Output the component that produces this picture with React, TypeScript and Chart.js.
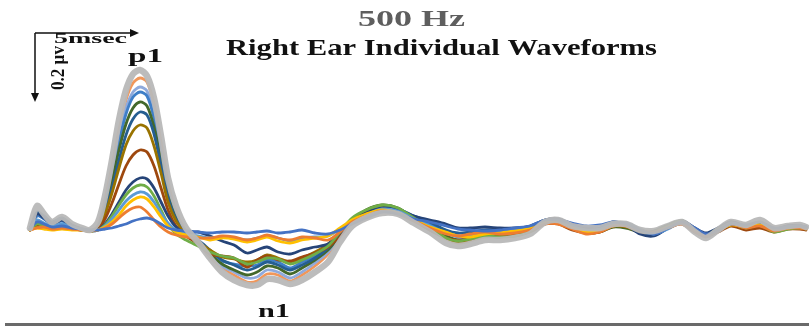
import React, { useEffect, useRef } from "react";
import { Chart, registerables } from "chart.js";

Chart.register(...registerables);

// Sample times (ms) shared by every trace
const TIME_MS = [
  0, 0.35, 0.7, 1.1, 1.6, 2.1, 2.6, 3.0,
  3.4, 3.75, 4.1, 4.45, 4.8, 5.15, 5.5, 5.85, 6.2, 6.55, 6.9, 7.3, 7.8,
  8.4, 9.0, 9.6, 10.2, 10.85, 11.35, 11.85, 12.4, 13.0, 13.6, 14.25, 14.9, 15.5, 16.1,
  16.8, 17.6, 18.4, 19.2,
  20.0, 20.8, 21.4, 22.0, 22.75, 23.5, 24.25, 25.0,
  25.75, 26.4, 27.1, 27.8, 28.5, 29.15, 29.8, 30.5, 31.2, 31.9, 32.6, 33.25, 33.8, 34.4, 35.05, 35.8, 36.5, 37.2, 37.9, 38.5, 38.8,
];

// Individual right-ear waveforms, amplitude in µV
const WAVE_01 = [
  0.003, 0.024, 0.018, 0.009, 0.012, 0.006, 0.003, 0,
  0, 0.003, 0.006, 0.012, 0.018, 0.027, 0.033, 0.036, 0.03, 0.018, 0.006, 0, -0.003,
  -0.006, -0.009, -0.006, -0.006, -0.009, -0.006, -0.003, -0.009, -0.006, 0, -0.009, -0.012, 0, 0.018,
  0.036, 0.054, 0.048, 0.033,
  0.024, 0.012, 0.003, 0, -0.003, 0, 0.006, 0.012,
  0.03, 0.03, 0.021, 0.012, 0.015, 0.024, 0.018, 0, -0.012, 0.006, 0.024, 0.006, -0.012, 0, 0.018, 0.015, 0.024, 0.006, 0.009, 0.012, 0.009,
];
const WAVE_02 = [
  0, 0.006, 0.009, 0.003, 0.006, 0.003, 0, -0.003,
  0, 0.006, 0.018, 0.036, 0.054, 0.066, 0.069, 0.054, 0.03, 0.009, -0.006, -0.015, -0.021,
  -0.024, -0.024, -0.018, -0.021, -0.03, -0.024, -0.015, -0.024, -0.03, -0.021, -0.024, -0.03, -0.006, 0.024,
  0.042, 0.057, 0.048, 0.027,
  0.006, -0.012, -0.018, -0.012, -0.006, -0.012, -0.009, 0,
  0.018, 0.018, 0.003, -0.012, -0.006, 0.012, 0.012, -0.003, -0.006, 0.006, 0.018, -0.006, -0.018, 0, 0.018, 0.006, 0.012, -0.003, 0.006, 0.006, 0.003,
];
const WAVE_03 = [
  0, 0.006, 0.003, 0, 0.003, 0, 0, -0.003,
  0, 0.009, 0.024, 0.045, 0.072, 0.09, 0.099, 0.093, 0.069, 0.039, 0.012, -0.006, -0.015,
  -0.021, -0.03, -0.024, -0.027, -0.036, -0.03, -0.021, -0.033, -0.039, -0.03, -0.024, -0.018, 0.006, 0.03,
  0.048, 0.06, 0.051, 0.03,
  0.009, -0.006, -0.018, -0.021, -0.012, -0.009, -0.003, 0.006,
  0.024, 0.021, 0.006, -0.006, -0.003, 0.012, 0.015, 0, -0.009, 0.009, 0.021, 0, -0.015, 0, 0.015, 0.009, 0.018, 0, 0.006, 0.009, 0.006,
];
const WAVE_04 = [
  0.003, 0.03, 0.021, 0.012, 0.018, 0.009, 0.003, 0,
  0, 0.012, 0.033, 0.06, 0.087, 0.105, 0.114, 0.108, 0.084, 0.051, 0.021, 0, -0.012,
  -0.018, -0.024, -0.021, -0.024, -0.03, -0.024, -0.018, -0.024, -0.033, -0.024, -0.021, -0.018, 0.003, 0.027,
  0.045, 0.063, 0.057, 0.033,
  0.012, -0.009, -0.021, -0.018, -0.009, -0.006, 0, 0.009,
  0.027, 0.027, 0.012, 0, 0.003, 0.018, 0.021, 0.003, -0.012, 0.003, 0.024, 0.003, -0.018, -0.003, 0.021, 0.012, 0.021, 0.003, 0.009, 0.012, 0.009,
];
const WAVE_05 = [
  0, 0.018, 0.012, 0.006, 0.009, 0.003, 0, -0.003,
  0, 0.015, 0.042, 0.075, 0.105, 0.126, 0.135, 0.129, 0.102, 0.06, 0.018, -0.012, -0.03,
  -0.048, -0.066, -0.078, -0.084, -0.102, -0.096, -0.084, -0.087, -0.102, -0.09, -0.072, -0.048, -0.006, 0.036,
  0.06, 0.075, 0.066, 0.036,
  0.006, -0.024, -0.033, -0.027, -0.018, -0.021, -0.018, -0.003,
  0.021, 0.024, 0.006, -0.006, 0, 0.015, 0.012, -0.003, -0.006, 0.012, 0.027, 0, -0.015, 0.003, 0.018, 0.006, 0.015, -0.006, 0.003, 0.006, 0.003,
];
const WAVE_06 = [
  0.003, 0.048, 0.036, 0.018, 0.03, 0.012, 0.003, -0.003,
  0, 0.018, 0.048, 0.084, 0.12, 0.144, 0.156, 0.153, 0.126, 0.084, 0.042, 0.009, -0.009,
  -0.006, -0.018, -0.033, -0.045, -0.069, -0.06, -0.051, -0.066, -0.072, -0.06, -0.051, -0.042, -0.009, 0.024,
  0.051, 0.066, 0.06, 0.042,
  0.03, 0.018, 0.006, 0.006, 0.009, 0.006, 0.006, 0.012,
  0.03, 0.033, 0.018, 0.006, 0.006, 0.024, 0.015, -0.012, -0.018, 0.006, 0.027, 0.006, -0.009, 0.006, 0.024, 0.012, 0.018, 0, 0.012, 0.012, 0.009,
];
const WAVE_07 = [
  0, 0.012, 0.009, 0.003, 0.006, 0.003, 0, -0.003,
  0.003, 0.033, 0.081, 0.138, 0.192, 0.225, 0.24, 0.234, 0.192, 0.126, 0.06, 0.012, -0.018,
  -0.042, -0.072, -0.078, -0.084, -0.111, -0.09, -0.078, -0.09, -0.093, -0.081, -0.069, -0.051, -0.018, 0.024,
  0.048, 0.06, 0.054, 0.03,
  0, -0.024, -0.03, -0.024, -0.018, -0.021, -0.015, -0.003,
  0.018, 0.018, 0, -0.009, -0.006, 0.012, 0.012, -0.003, -0.009, 0.006, 0.018, -0.006, -0.018, -0.006, 0.012, 0, 0.006, -0.006, 0.003, 0.003, 0,
];
const WAVE_08 = [
  0, 0.024, 0.015, 0.006, 0.012, 0.006, 0, -0.003,
  0.006, 0.048, 0.111, 0.186, 0.255, 0.297, 0.315, 0.306, 0.252, 0.171, 0.084, 0.027, -0.012,
  -0.036, -0.06, -0.081, -0.087, -0.096, -0.09, -0.075, -0.084, -0.096, -0.084, -0.066, -0.042, -0.006, 0.03,
  0.054, 0.066, 0.057, 0.03,
  0, -0.024, -0.036, -0.03, -0.018, -0.018, -0.018, -0.006,
  0.018, 0.021, 0.006, -0.006, -0.003, 0.012, 0.009, -0.006, -0.006, 0.009, 0.021, -0.003, -0.018, 0, 0.015, 0.006, 0.012, -0.003, 0.006, 0.006, 0.003,
];
const WAVE_09 = [
  0.003, 0.054, 0.042, 0.024, 0.036, 0.015, 0.003, -0.003,
  0.006, 0.054, 0.126, 0.21, 0.285, 0.333, 0.354, 0.345, 0.288, 0.195, 0.099, 0.033, -0.009,
  -0.03, -0.06, -0.09, -0.105, -0.12, -0.111, -0.096, -0.105, -0.12, -0.105, -0.084, -0.054, -0.012, 0.03,
  0.054, 0.066, 0.063, 0.042,
  0.024, 0, -0.009, -0.006, 0, 0, 0.003, 0.009,
  0.03, 0.03, 0.012, 0, 0.003, 0.021, 0.015, -0.009, -0.015, 0.006, 0.024, 0.003, -0.012, 0.003, 0.021, 0.012, 0.021, 0.003, 0.012, 0.012, 0.009,
];
const WAVE_10 = [
  0, 0.018, 0.012, 0.006, 0.009, 0.003, 0, -0.003,
  0.009, 0.066, 0.147, 0.24, 0.318, 0.366, 0.384, 0.372, 0.309, 0.21, 0.108, 0.036, -0.009,
  -0.036, -0.072, -0.102, -0.12, -0.135, -0.126, -0.108, -0.114, -0.132, -0.114, -0.09, -0.06, -0.015, 0.03,
  0.06, 0.075, 0.066, 0.036,
  0.006, -0.018, -0.03, -0.027, -0.018, -0.018, -0.015, -0.003,
  0.021, 0.024, 0.006, -0.009, -0.006, 0.009, 0.006, -0.006, -0.003, 0.015, 0.027, 0, -0.015, 0.003, 0.024, 0.012, 0.018, -0.003, 0.006, 0.009, 0.006,
];
const WAVE_11 = [
  0.003, 0.042, 0.033, 0.018, 0.027, 0.012, 0.003, -0.003,
  0.009, 0.072, 0.162, 0.264, 0.348, 0.399, 0.414, 0.402, 0.336, 0.228, 0.12, 0.042, -0.006,
  -0.033, -0.066, -0.093, -0.102, -0.108, -0.105, -0.09, -0.096, -0.114, -0.096, -0.078, -0.048, -0.006, 0.033,
  0.057, 0.069, 0.06, 0.036,
  0.018, -0.006, -0.018, -0.015, -0.006, -0.006, -0.003, 0.006,
  0.027, 0.027, 0.012, 0, 0.003, 0.021, 0.018, -0.006, -0.012, 0.009, 0.024, 0.003, -0.012, 0.003, 0.021, 0.012, 0.021, 0.003, 0.012, 0.012, 0.009,
];
const WAVE_12 = [
  0, 0.024, 0.018, 0.009, 0.015, 0.006, 0, -0.003,
  0.012, 0.078, 0.174, 0.279, 0.366, 0.414, 0.429, 0.417, 0.351, 0.24, 0.126, 0.045, -0.006,
  -0.036, -0.075, -0.108, -0.126, -0.144, -0.141, -0.12, -0.126, -0.144, -0.126, -0.099, -0.066, -0.018, 0.03,
  0.054, 0.066, 0.06, 0.033,
  0.006, -0.018, -0.03, -0.024, -0.015, -0.015, -0.012, 0,
  0.024, 0.027, 0.009, -0.003, 0, 0.015, 0.012, -0.003, -0.006, 0.012, 0.024, 0, -0.018, 0, 0.018, 0.009, 0.018, 0, 0.009, 0.009, 0.006,
];
const WAVE_13 = [
  0, 0.018, 0.012, 0.006, 0.009, 0.003, 0, -0.003,
  0.015, 0.09, 0.192, 0.3, 0.39, 0.441, 0.456, 0.444, 0.378, 0.264, 0.144, 0.057, -0.003,
  -0.039, -0.081, -0.114, -0.135, -0.156, -0.153, -0.132, -0.135, -0.153, -0.135, -0.108, -0.072, -0.021, 0.027,
  0.048, 0.06, 0.054, 0.027,
  0, -0.027, -0.039, -0.033, -0.021, -0.021, -0.015, -0.003,
  0.021, 0.024, 0.006, -0.009, -0.006, 0.009, 0.009, -0.006, -0.009, 0.009, 0.021, -0.003, -0.021, -0.003, 0.015, 0.006, 0.015, -0.003, 0.006, 0.006, 0.003,
];
// Largest-response trace, drawn as the thick grey outline
const WAVE_MAX = [
  0.006, 0.072, 0.048, 0.024, 0.039, 0.018, 0.006, 0,
  0.024, 0.102, 0.21, 0.33, 0.42, 0.468, 0.48, 0.462, 0.396, 0.282, 0.156, 0.072, 0.006,
  -0.036, -0.084, -0.126, -0.15, -0.165, -0.165, -0.147, -0.15, -0.162, -0.15, -0.126, -0.096, -0.036, 0.012,
  0.036, 0.051, 0.048, 0.021,
  -0.006, -0.039, -0.048, -0.042, -0.03, -0.03, -0.024, -0.012,
  0.024, 0.03, 0.012, 0.006, 0.006, 0.018, 0.018, 0, -0.003, 0.012, 0.024, -0.006, -0.024, 0, 0.024, 0.015, 0.03, 0.006, 0.012, 0.015, 0.009,
];

const WAVES = [
  WAVE_01, WAVE_02, WAVE_03, WAVE_04, WAVE_05, WAVE_06, WAVE_07,
  WAVE_08, WAVE_09, WAVE_10, WAVE_11, WAVE_12, WAVE_13,
];
const WAVE_COLORS = [
  "#4472C4", "#ED7D31", "#FFC000", "#5B9BD5", "#70AD47", "#264478", "#9E480E",
  "#997300", "#255E91", "#43682B", "#3F7FC8", "#8FAADC", "#F1975A",
];

const TITLE = "500 Hz";
const SUBTITLE = "Right Ear Individual Waveforms";
const PEAK_POS = "p1";
const PEAK_NEG = "n1";
const SCALE_TIME = "5msec";
const SCALE_AMP = "0.2 µv";

const SERIF = "'Liberation Serif', 'Times New Roman', serif";

function stretchedText(
  ctx: CanvasRenderingContext2D,
  text: string,
  size: number,
  left: number,
  right: number,
  baseline: number,
  color: string
) {
  ctx.save();
  ctx.font = `bold ${size}px ${SERIF}`;
  ctx.fillStyle = color;
  ctx.textBaseline = "alphabetic";
  ctx.textAlign = "left";
  const w = ctx.measureText(text).width;
  ctx.translate(left, baseline);
  ctx.scale((right - left) / w, 1);
  ctx.fillText(text, 0, 0);
  ctx.restore();
}

const decorPlugin = {
  id: "decor",
  afterDraw(chart: Chart) {
    const ctx = chart.ctx;
    stretchedText(ctx, TITLE, 24, 358, 465, 26, "#5e5e5e");
    stretchedText(ctx, SUBTITLE, 24, 226, 657, 55, "#111111");
    stretchedText(ctx, PEAK_POS, 19, 128, 163, 62, "#111111");
    stretchedText(ctx, PEAK_NEG, 19, 258, 290, 317, "#111111");
    stretchedText(ctx, SCALE_TIME, 15, 54, 127, 43, "#111111");

    // scale bar arrows
    ctx.save();
    ctx.strokeStyle = "#111111";
    ctx.fillStyle = "#111111";
    ctx.lineWidth = 1.5;
    ctx.beginPath();
    ctx.moveTo(35, 33);
    ctx.lineTo(132, 33);
    ctx.moveTo(35, 33);
    ctx.lineTo(35, 95);
    ctx.stroke();
    ctx.beginPath();
    ctx.moveTo(139, 33);
    ctx.lineTo(130, 29);
    ctx.lineTo(130, 37);
    ctx.closePath();
    ctx.fill();
    ctx.beginPath();
    ctx.moveTo(35, 102);
    ctx.lineTo(31, 93);
    ctx.lineTo(39, 93);
    ctx.closePath();
    ctx.fill();
    ctx.restore();

    // rotated amplitude label
    ctx.save();
    ctx.font = `bold 15px ${SERIF}`;
    ctx.fillStyle = "#111111";
    const w = ctx.measureText(SCALE_AMP).width;
    ctx.translate(64, 90);
    ctx.rotate(-Math.PI / 2);
    ctx.scale(44 / w, 1.25);
    ctx.fillText(SCALE_AMP, 0, 0);
    ctx.restore();

    // bottom rule
    ctx.save();
    ctx.fillStyle = "#6a6a6a";
    ctx.fillRect(5, 323, 804, 3);
    ctx.restore();
  },
};

export default function App() {
  const canvasRef = useRef<HTMLCanvasElement>(null);

  useEffect(() => {
    if (!canvasRef.current) return;
    const toPoints = (vals: number[]) => vals.map((y, i) => ({ x: TIME_MS[i], y }));
    const datasets: any[] = WAVES.map((vals, i) => ({
      label: `Subject ${i + 1}`,
      data: toPoints(vals),
      borderColor: WAVE_COLORS[i],
      borderWidth: 2.8,
      pointRadius: 0,
      tension: 0.3,
      order: 1,
    }));
    datasets.push({
      label: "Max",
      data: toPoints(WAVE_MAX),
      borderColor: "rgba(184,184,184,0.95)",
      borderWidth: 6.5,
      pointRadius: 0,
      tension: 0.3,
      order: 0,
    });

    const chart = new Chart(canvasRef.current, {
      type: "line",
      data: { datasets },
      options: {
        responsive: false,
        animation: false,
        layout: { padding: 0 },
        elements: { line: { borderCapStyle: "round", borderJoinStyle: "round" } },
        scales: {
          x: { type: "linear", min: -1.5, max: 38.95, display: false },
          y: { type: "linear", min: -0.297, max: 0.69, display: false },
        },
        plugins: {
          legend: { display: false },
          title: { display: false },
          tooltip: { enabled: false },
        },
      },
      plugins: [decorPlugin],
    });
    return () => chart.destroy();
  }, []);

  return (
    <div style={{ position: "absolute", left: 0, top: 0, width: 809, height: 329, background: "#ffffff" }}>
      <canvas ref={canvasRef} width={809} height={329} style={{ display: "block" }} />
    </div>
  );
}
